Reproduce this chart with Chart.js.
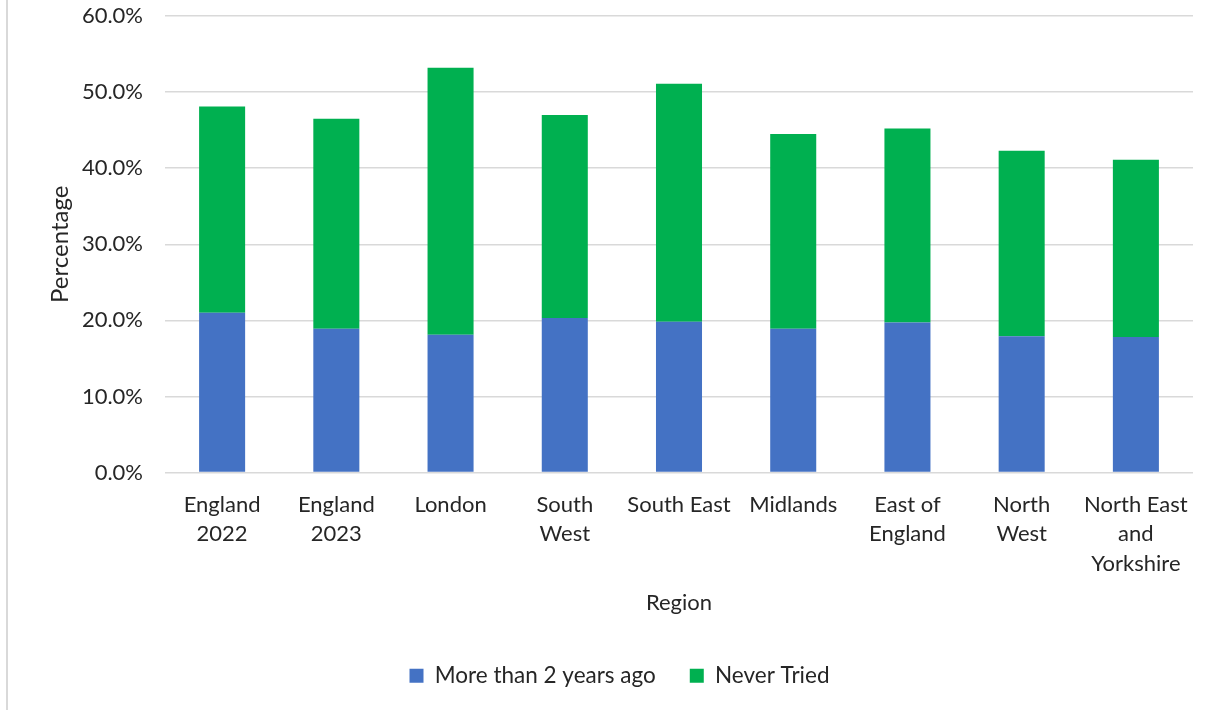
<!DOCTYPE html>
<html>
<head>
<meta charset="utf-8">
<script src="https://cdn.jsdelivr.net/npm/chart.js@4"></script>
<style>
  html, body { margin: 0; padding: 0; background: #fff; }
  #wrap { position: relative; width: 1220px; height: 710px; }
  #edge { position: absolute; left: 6px; top: 0; width: 2px; height: 710px; background: #d9d9d9; }
</style>
</head>
<body>
<div id="wrap">
  <div id="edge"></div>
  <canvas id="regionChart" width="1220" height="710"></canvas>
</div>
<script>
// Categories and values (percent)
const regions = [
  ["England", "2022"], ["England", "2023"], "London", ["South", "West"], "South East",
  "Midlands", ["East of", "England"], ["North", "West"], ["North East", "and", "Yorkshire"]
];
const moreThan2Years = [21.0, 18.9, 18.1, 20.3, 19.8, 18.9, 19.7, 17.9, 17.8];
const neverTried = [27.1, 27.6, 35.1, 26.7, 31.3, 25.6, 25.5, 24.4, 23.3];

const FONT = "Lato, 'Open Sans', sans-serif";
const TEXT = '#262626';

const ctx = document.getElementById('regionChart').getContext('2d');

new Chart(ctx, {
  type: 'bar',
  data: {
    labels: regions,
    datasets: [
      {
        label: 'More than 2 years ago',
        data: moreThan2Years,
        backgroundColor: '#4472C4',
        barPercentage: 0.403,
        categoryPercentage: 1
      },
      {
        label: 'Never Tried',
        data: neverTried,
        backgroundColor: '#00B050',
        barPercentage: 0.403,
        categoryPercentage: 1
      }
    ]
  },
  options: {
    responsive: false,
    animation: false,
    layout: { padding: { top: 0, right: 27, left: 46, bottom: 13 } },
    plugins: {
      legend: {
        position: 'bottom',
        labels: {
          color: TEXT,
          font: { family: FONT, size: 22.5 },
          boxWidth: 14,
          boxHeight: 14,
          padding: 34
        }
      },
      tooltip: { enabled: false }
    },
    scales: {
      x: {
        stacked: true,
        grid: { display: false, drawTicks: false },
        border: { display: false },
        ticks: {
          color: TEXT,
          font: { family: FONT, size: 22, lineHeight: 1.36 },
          padding: 17,
          maxRotation: 0,
          autoSkip: false
        },
        title: {
          display: true,
          text: 'Region',
          color: TEXT,
          font: { family: FONT, size: 22 },
          padding: { top: 10, bottom: 14 }
        },
        afterFit: (scale) => { scale.height = 158; }
      },
      y: {
        stacked: true,
        min: 0,
        max: 60,
        grid: { color: '#d9d9d9', lineWidth: 1.5, drawTicks: false },
        border: { display: false },
        ticks: {
          stepSize: 10,
          color: TEXT,
          font: { family: FONT, size: 22 },
          padding: 22,
          callback: (v) => v.toFixed(1) + '%'
        },
        title: {
          display: true,
          text: 'Percentage',
          color: TEXT,
          font: { family: FONT, size: 24 },
          padding: { top: 0, bottom: 0 }
        },
        afterFit: (scale) => {
          scale.width = 119;
          scale.paddingTop = 16;
          scale.paddingBottom = 0;
        }
      }
    }
  }
});
</script>
</body>
</html>
